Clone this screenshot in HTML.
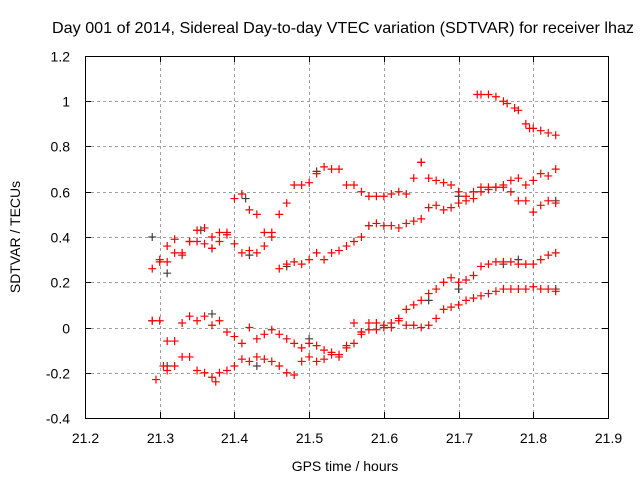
<!DOCTYPE html>
<html><head><meta charset="utf-8"><style>
body{margin:0;background:#fff;}
svg{display:block;font-family:"Liberation Sans",sans-serif;}
</style></head><body>
<svg id="chart" width="640" height="480" xmlns="http://www.w3.org/2000/svg">
<rect width="640" height="480" fill="#fff"/>
<text x="343" y="33" text-anchor="middle" font-size="16" textLength="582" lengthAdjust="spacingAndGlyphs">Day 001 of 2014, Sidereal Day-to-day VTEC variation (SDTVAR) for receiver lhaz</text>
<g id="grid"></g>
<g id="ticks"></g>
<g id="marks"></g>
<rect x="85.5" y="56.5" width="523" height="362" fill="none" stroke="#000"/>
<text transform="translate(20,237) rotate(-90)" text-anchor="middle" font-size="14">SDTVAR / TECUs</text>
<text x="345" y="471" text-anchor="middle" font-size="14">GPS time / hours</text>
</svg>
<script>
const xTicks=[21.2,21.3,21.4,21.5,21.6,21.7,21.8,21.9];
const xTickLabels=["21.2","21.3","21.4","21.5","21.6","21.7","21.8","21.9"];
const yTicks=[-0.4,-0.2,0,0.2,0.4,0.6,0.8,1,1.2];
const yTickLabels=["-0.4","-0.2","0","0.2","0.4","0.6","0.8","1","1.2"];
const xA=[21.30,21.31,21.32,21.33,21.34,21.35,21.36,21.37,21.38,21.39,21.40,21.41,21.42,21.43,21.44,21.45,21.46,21.47,21.48,21.49,21.50,21.51,21.52,21.53,21.54,21.55,21.56,21.57,21.58,21.59,21.60,21.61,21.62,21.63,21.64,21.65,21.66,21.67,21.68,21.69,21.70,21.71,21.72,21.73,21.74,21.75,21.76,21.77,21.78,21.79,21.80,21.81,21.82,21.83];
const yA=[0.30,0.36,0.39,0.33,0.38,0.43,0.44,0.40,0.42,0.42,0.57,0.59,0.52,0.50,0.42,0.42,0.50,0.55,0.63,0.63,0.64,0.68,0.71,0.70,0.70,0.63,0.63,0.60,0.58,0.58,0.58,0.59,0.60,0.59,0.66,0.73,0.66,0.65,0.64,0.63,0.60,0.58,0.60,0.62,0.62,0.62,0.62,0.60,0.56,0.56,0.51,0.54,0.56,0.55];
const xB=[21.29,21.30,21.31,21.32,21.33,21.34,21.35,21.36,21.37,21.38,21.39,21.40,21.41,21.42,21.43,21.44,21.45,21.46,21.47,21.48,21.49,21.50,21.51,21.52,21.53,21.54,21.55,21.56,21.57,21.58,21.59,21.60,21.61,21.62,21.63,21.64,21.65,21.66,21.67,21.68,21.69,21.70,21.71,21.72,21.73,21.74,21.75,21.76,21.77,21.78,21.79,21.80,21.81,21.82,21.83];
const yB=[0.26,0.29,0.29,0.33,0.32,0.38,0.38,0.37,0.35,0.38,0.41,0.37,0.33,0.34,0.33,0.36,0.40,0.26,0.28,0.29,0.28,0.30,0.33,0.30,0.33,0.34,0.36,0.38,0.40,0.45,0.46,0.45,0.45,0.44,0.46,0.47,0.48,0.53,0.54,0.52,0.53,0.55,0.56,0.57,0.60,0.61,0.62,0.63,0.65,0.66,0.63,0.65,0.68,0.67,0.70];
const xC=[21.725,21.73,21.74,21.75,21.76,21.765,21.775,21.78,21.79,21.795,21.80,21.81,21.82,21.83];
const yC=[1.03,1.03,1.03,1.02,1.00,0.99,0.97,0.96,0.90,0.88,0.88,0.87,0.86,0.85];
const xD=[21.29,21.30,21.31,21.32,21.33,21.34,21.35,21.36,21.37,21.38,21.39,21.40,21.41,21.42,21.43,21.44,21.45,21.46,21.47,21.48,21.49,21.50,21.51,21.52,21.53,21.54,21.55,21.56,21.57,21.58,21.59,21.60,21.61,21.62,21.63,21.64,21.65,21.66,21.67,21.68,21.69,21.70,21.71,21.72,21.73,21.74,21.75,21.76,21.77,21.78,21.79,21.80,21.81,21.82,21.83];
const yD=[0.03,0.03,-0.06,-0.06,0.02,0.05,0.03,0.05,0.01,0.03,-0.02,-0.04,-0.07,0.00,-0.05,-0.03,-0.01,-0.03,-0.05,-0.07,-0.09,-0.07,-0.08,-0.10,-0.11,-0.12,-0.09,0.02,-0.02,0.02,0.02,0.01,0.02,0.04,0.08,0.10,0.12,0.15,0.17,0.20,0.22,0.20,0.21,0.23,0.27,0.28,0.29,0.29,0.29,0.28,0.28,0.28,0.30,0.32,0.33];
const xE=[21.295,21.305,21.31,21.32,21.33,21.34,21.35,21.36,21.37,21.375,21.38,21.39,21.40,21.41,21.42,21.43,21.44,21.45,21.46,21.47,21.48,21.49,21.50,21.51,21.52,21.53,21.54,21.55,21.56,21.57,21.58,21.59,21.60,21.61,21.62,21.63,21.64,21.65,21.66,21.67,21.68,21.69,21.70,21.71,21.72,21.73,21.74,21.75,21.76,21.77,21.78,21.79,21.80,21.81,21.82,21.83];
const yE=[-0.23,-0.17,-0.19,-0.17,-0.13,-0.13,-0.19,-0.20,-0.22,-0.24,-0.20,-0.19,-0.17,-0.14,-0.15,-0.13,-0.14,-0.15,-0.17,-0.20,-0.21,-0.15,-0.13,-0.15,-0.14,-0.12,-0.13,-0.08,-0.07,-0.03,-0.01,-0.01,0.00,0.00,0.03,0.01,0.01,0.00,0.01,0.04,0.08,0.09,0.10,0.12,0.13,0.14,0.15,0.16,0.17,0.17,0.17,0.17,0.18,0.17,0.17,0.16];
const xK=[21.29,21.31,21.355,21.37,21.415,21.42,21.47,21.51,21.58,21.65,21.70,21.78,21.29,21.31,21.37,21.43,21.50,21.57,21.66,21.70,21.76,21.83,21.83];
const yK=[0.40,0.24,0.43,0.35,0.57,0.32,0.27,0.69,0.45,0.73,0.58,0.30,0.03,-0.17,0.06,-0.17,-0.05,-0.02,0.12,0.17,0.28,0.17,0.56];
const NS="http://www.w3.org/2000/svg";
const X0=85,X1=608,Y0=418,Y1=56;
function sx(v){return X0+(v-21.2)/(0.7)*(X1-X0);}
function sy(v){return Y0-(v+0.4)/1.6*(Y0-Y1);}
const grid=document.getElementById('grid'),ticks=document.getElementById('ticks'),marks=document.getElementById('marks');
function mk(t,a,p){const e=document.createElementNS(NS,t);for(const k in a)e.setAttribute(k,a[k]);p.appendChild(e);return e;}
xTicks.forEach((v,i)=>{const x=Math.round(sx(v))+0.5;
 if(i>0&&i<xTicks.length-1){const g=mk('line',{x1:x,x2:x,y1:Y1,y2:Y0,stroke:'#a0a0a0','stroke-dasharray':'3,3'},grid);
 
 }
 const t=mk('text',{x:x,y:Y0+25,'text-anchor':'middle','font-size':'14'},ticks);t.textContent=xTickLabels[i];
 
 
 mk('line',{x1:x,x2:x,y1:Y0,y2:Y0-6,stroke:'#000'},ticks);mk('line',{x1:x,x2:x,y1:Y1,y2:Y1+6,stroke:'#000'},ticks);});
yTicks.forEach((v,i)=>{const y=Math.round(sy(v))+0.5;
 if(i>0&&i<yTicks.length-1){const g=mk('line',{x1:X0,x2:X1,y1:y,y2:y,stroke:'#a0a0a0','stroke-dasharray':'3,3'},grid);
 
 }
 const t=mk('text',{x:X0-15,y:y+5,'text-anchor':'end','font-size':'14'},ticks);t.textContent=yTickLabels[i];
 
 
 mk('line',{x1:X0,x2:X0+6,y1:y,y2:y,stroke:'#000'},ticks);mk('line',{x1:X1,x2:X1-6,y1:y,y2:y,stroke:'#000'},ticks);});
function plot(xs,ys,col,name){xs.forEach((xv,i)=>{const x=sx(xv),y=sy(ys[i]);
 const p=mk('path',{d:`M${x-4} ${y}H${x+4}M${x} ${y-4}V${y+4}`,stroke:col,'stroke-width':'1.2',fill:'none'},marks);
 
 });}
plot(xK,yK,'#404040','point-black');
plot(xA,yA,'#ff0000','point-series-a');
plot(xB,yB,'#ff0000','point-series-b');
plot(xC,yC,'#ff0000','point-series-c');
plot(xD,yD,'#ff0000','point-series-d');
plot(xE,yE,'#ff0000','point-series-e');
</script>
</body></html>
